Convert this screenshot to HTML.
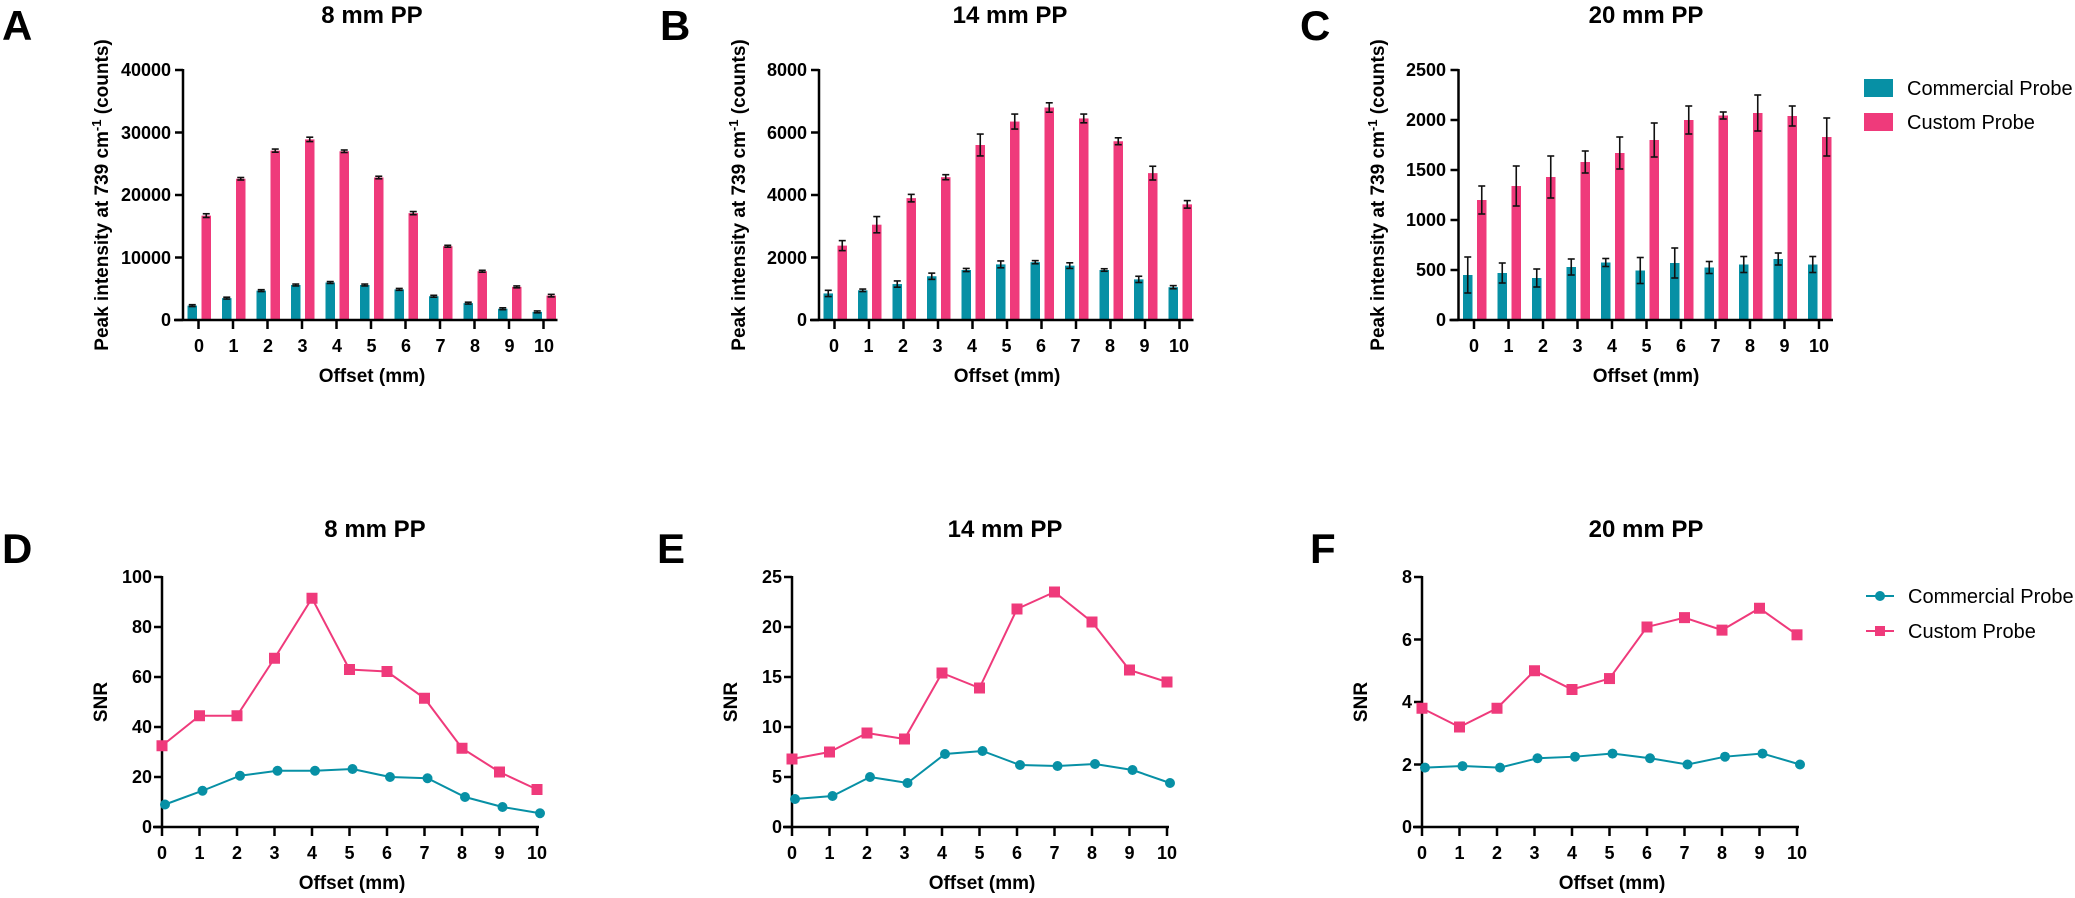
<!DOCTYPE html>
<html><head><meta charset="utf-8"><style>
html,body{margin:0;padding:0;background:#fff;}
svg{display:block;font-family:"Liberation Sans",Arial,sans-serif;}
.b{font-weight:bold;}
.tk{font-weight:bold;font-size:18px;}
.tt{font-weight:bold;font-size:24px;}
.let{font-weight:bold;font-size:42px;}
.ax{font-weight:bold;font-size:19px;}
.lg{font-size:20px;}
</style></head><body>
<svg id="s" width="2075" height="898" viewBox="0 0 2075 898" xmlns="http://www.w3.org/2000/svg">
<g id="shapes"></g>
<text class="let" x="2" y="40">A</text>
<text class="let" x="660" y="40">B</text>
<text class="let" x="1300" y="40">C</text>
<text class="let" x="2" y="563">D</text>
<text class="let" x="657" y="563">E</text>
<text class="let" x="1310" y="563">F</text>
<text class="tt" x="372" y="23" text-anchor="middle">8 mm PP</text>
<text class="tt" x="1010" y="23" text-anchor="middle">14 mm PP</text>
<text class="tt" x="1646" y="23" text-anchor="middle">20 mm PP</text>
<text class="tt" x="375" y="537" text-anchor="middle">8 mm PP</text>
<text class="tt" x="1005" y="537" text-anchor="middle">14 mm PP</text>
<text class="tt" x="1646" y="537" text-anchor="middle">20 mm PP</text>
<text class="ax" transform="translate(108,195) rotate(-90)" text-anchor="middle">Peak intensity at 739 cm<tspan dy="-7" font-size="13">-1</tspan><tspan dy="7"> (counts)</tspan></text>
<text class="ax" transform="translate(745,195) rotate(-90)" text-anchor="middle">Peak intensity at 739 cm<tspan dy="-7" font-size="13">-1</tspan><tspan dy="7"> (counts)</tspan></text>
<text class="ax" transform="translate(1384,195) rotate(-90)" text-anchor="middle">Peak intensity at 739 cm<tspan dy="-7" font-size="13">-1</tspan><tspan dy="7"> (counts)</tspan></text>
<text class="ax" transform="translate(107,702) rotate(-90)" text-anchor="middle">SNR</text>
<text class="ax" transform="translate(737,702) rotate(-90)" text-anchor="middle">SNR</text>
<text class="ax" transform="translate(1367,702) rotate(-90)" text-anchor="middle">SNR</text>
<text class="ax" x="372" y="382" text-anchor="middle">Offset (mm)</text>
<text class="ax" x="1007" y="382" text-anchor="middle">Offset (mm)</text>
<text class="ax" x="1646" y="382" text-anchor="middle">Offset (mm)</text>
<text class="ax" x="352" y="889" text-anchor="middle">Offset (mm)</text>
<text class="ax" x="982" y="889" text-anchor="middle">Offset (mm)</text>
<text class="ax" x="1612" y="889" text-anchor="middle">Offset (mm)</text>
<g class="tk" text-anchor="end">
<text x="171" y="76">40000</text><text x="171" y="139">30000</text><text x="171" y="201">20000</text><text x="171" y="264">10000</text><text x="171" y="326">0</text>
<text x="807" y="76">8000</text><text x="807" y="139">6000</text><text x="807" y="201">4000</text><text x="807" y="264">2000</text><text x="807" y="326">0</text>
<text x="1446" y="76">2500</text><text x="1446" y="126">2000</text><text x="1446" y="176">1500</text><text x="1446" y="226">1000</text><text x="1446" y="276">500</text><text x="1446" y="326">0</text>
<text x="152" y="583">100</text><text x="152" y="633">80</text><text x="152" y="683">60</text><text x="152" y="733">40</text><text x="152" y="783">20</text><text x="152" y="833">0</text>
<text x="782" y="583">25</text><text x="782" y="633">20</text><text x="782" y="683">15</text><text x="782" y="733">10</text><text x="782" y="783">5</text><text x="782" y="833">0</text>
<text x="1412" y="583">8</text><text x="1412" y="646">6</text><text x="1412" y="708">4</text><text x="1412" y="771">2</text><text x="1412" y="833">0</text>
</g>
<g class="tk" text-anchor="middle">
<text x="199" y="352">0</text><text x="233.5" y="352">1</text><text x="268" y="352">2</text><text x="302.5" y="352">3</text><text x="337" y="352">4</text><text x="371.5" y="352">5</text><text x="406" y="352">6</text><text x="440.5" y="352">7</text><text x="475" y="352">8</text><text x="509.5" y="352">9</text><text x="544" y="352">10</text>
<text x="834" y="352">0</text><text x="868.5" y="352">1</text><text x="903" y="352">2</text><text x="937.5" y="352">3</text><text x="972" y="352">4</text><text x="1006.5" y="352">5</text><text x="1041" y="352">6</text><text x="1075.5" y="352">7</text><text x="1110" y="352">8</text><text x="1144.5" y="352">9</text><text x="1179" y="352">10</text>
<text x="1474" y="352">0</text><text x="1508.5" y="352">1</text><text x="1543" y="352">2</text><text x="1577.5" y="352">3</text><text x="1612" y="352">4</text><text x="1646.5" y="352">5</text><text x="1681" y="352">6</text><text x="1715.5" y="352">7</text><text x="1750" y="352">8</text><text x="1784.5" y="352">9</text><text x="1819" y="352">10</text>
<text x="162" y="859">0</text><text x="199.5" y="859">1</text><text x="237" y="859">2</text><text x="274.5" y="859">3</text><text x="312" y="859">4</text><text x="349.5" y="859">5</text><text x="387" y="859">6</text><text x="424.5" y="859">7</text><text x="462" y="859">8</text><text x="499.5" y="859">9</text><text x="537" y="859">10</text>
<text x="792" y="859">0</text><text x="829.5" y="859">1</text><text x="867" y="859">2</text><text x="904.5" y="859">3</text><text x="942" y="859">4</text><text x="979.5" y="859">5</text><text x="1017" y="859">6</text><text x="1054.5" y="859">7</text><text x="1092" y="859">8</text><text x="1129.5" y="859">9</text><text x="1167" y="859">10</text>
<text x="1422" y="859">0</text><text x="1459.5" y="859">1</text><text x="1497" y="859">2</text><text x="1534.5" y="859">3</text><text x="1572" y="859">4</text><text x="1609.5" y="859">5</text><text x="1647" y="859">6</text><text x="1684.5" y="859">7</text><text x="1722" y="859">8</text><text x="1759.5" y="859">9</text><text x="1797" y="859">10</text>
</g>
<rect x="1864" y="79" width="29" height="18" fill="#0790a5"/>
<rect x="1864" y="113" width="29" height="18" fill="#ef3a7b"/>
<text class="lg" x="1907" y="95">Commercial Probe</text>
<text class="lg" x="1907" y="129">Custom Probe</text>
<line x1="1866" y1="596" x2="1894" y2="596" stroke="#0790a5" stroke-width="2"/>
<circle cx="1880" cy="596" r="5" fill="#0790a5"/>
<line x1="1866" y1="631" x2="1894" y2="631" stroke="#ef3a7b" stroke-width="2"/>
<rect x="1875" y="626" width="10" height="10" fill="#ef3a7b"/>
<text class="lg" x="1908" y="603">Commercial Probe</text>
<text class="lg" x="1908" y="638">Custom Probe</text>
</svg>
<script>
(function(){
var T='#0790a5',P='#ef3a7b',NS='http://www.w3.org/2000/svg',g=document.getElementById('shapes');
function el(n,a){var e=document.createElementNS(NS,n);for(var k in a)e.setAttribute(k,a[k]);g.appendChild(e);return e;}
function ln(x1,y1,x2,y2,c,w){el('line',{x1:x1,y1:y1,x2:x2,y2:y2,stroke:c||'#000','stroke-width':w||2.5});}
function barPanel(ax,max,step,com,cus){
  var y0=320,yt=70,t0=ax+15.5,sp=34.5;
  function Y(v){return y0-(v/max)*(y0-yt);}
  for(var i=0;i<11;i++){
    var gx=t0+sp*i;
    [[com[i],gx-11,T],[cus[i],gx+3,P]].forEach(function(d){
      var v=d[0][0],e=d[0][1],x=d[1];
      el('rect',{x:x,y:Y(v),width:9.5,height:y0-Y(v),fill:d[2]});
      var cx=x+4.75;
      ln(cx,Y(v+e),cx,Y(v-e),'#111',1.6);
      ln(cx-3.5,Y(v+e),cx+3.5,Y(v+e),'#111',1.6);
      ln(cx-3.5,Y(v-e),cx+3.5,Y(v-e),'#111',1.6);
    });
    ln(gx,y0,gx,y0+9);
  }
  ln(ax,yt-1,ax,y0+1);
  ln(ax-9,y0,t0+sp*10+14,y0);
  for(var v=0;v<=max;v+=step)ln(ax-8,Y(v),ax,Y(v));
}
function linePanel(ax,max,step,com,cus){
  var y0=827,yt=577,sp=37.5;
  function Y(v){return y0-(v/max)*(y0-yt);}
  ln(ax,yt-1,ax,y0+1);
  ln(ax-9,y0,ax+sp*10+2,y0);
  for(var v=0;v<=max+1e-9;v+=step)ln(ax-8,Y(v),ax,Y(v));
  for(var i=0;i<11;i++)ln(ax+sp*i,y0,ax+sp*i,y0+9);
  [[com,T,0],[cus,P,1]].forEach(function(s){
    var pts=s[0].map(function(v,i){return (ax+sp*i+(s[2]?0:3))+','+Y(v);}).join(' ');
    el('polyline',{points:pts,fill:'none',stroke:s[1],'stroke-width':2});
    s[0].forEach(function(v,i){
      var x=ax+sp*i+(s[2]?0:3);
      if(s[2])el('rect',{x:x-5.5,y:Y(v)-5.5,width:11,height:11,fill:s[1]});
      else el('circle',{cx:x,cy:Y(v),r:5,fill:s[1]});
    });
  });
}
barPanel(183,40000,10000,
 [[2300,150],[3500,150],[4700,150],[5600,150],[6000,150],[5600,150],[4900,150],[3800,150],[2700,150],[1800,150],[1300,150]],
 [[16700,300],[22600,200],[27100,250],[28900,350],[27000,200],[22800,200],[17100,250],[11800,150],[7800,150],[5300,150],[3900,200]]);
barPanel(819,8000,2000,
 [[850,100],[950,40],[1150,100],[1400,100],[1600,50],[1780,110],[1850,50],[1740,90],[1600,40],[1300,100],[1050,50]],
 [[2380,160],[3050,260],[3900,120],[4570,80],[5600,350],[6350,240],[6800,150],[6450,140],[5720,110],[4700,220],[3700,120]]);
barPanel(1458.5,2500,500,
 [[450,180],[470,100],[420,90],[530,80],[575,40],[495,130],[570,150],[525,60],[555,80],[610,60],[555,80]],
 [[1200,140],[1340,200],[1430,210],[1580,110],[1670,160],[1800,170],[2000,140],[2045,35],[2070,180],[2040,100],[1830,190]]);
linePanel(162,100,20,[9,14.5,20.5,22.5,22.5,23.2,20,19.5,12,8,5.5],[32.5,44.5,44.5,67.5,91.5,63,62.2,51.5,31.5,22,15]);
linePanel(792,25,5,[2.8,3.1,5,4.4,7.3,7.6,6.2,6.1,6.3,5.7,4.4],[6.8,7.5,9.4,8.8,15.4,13.9,21.8,23.5,20.5,15.7,14.5]);
linePanel(1422,8,2,[1.9,1.95,1.9,2.2,2.25,2.35,2.2,2.0,2.25,2.35,2.0],[3.8,3.2,3.8,5.0,4.4,4.75,6.4,6.7,6.3,7.0,6.15]);
})();
</script>
</body></html>
